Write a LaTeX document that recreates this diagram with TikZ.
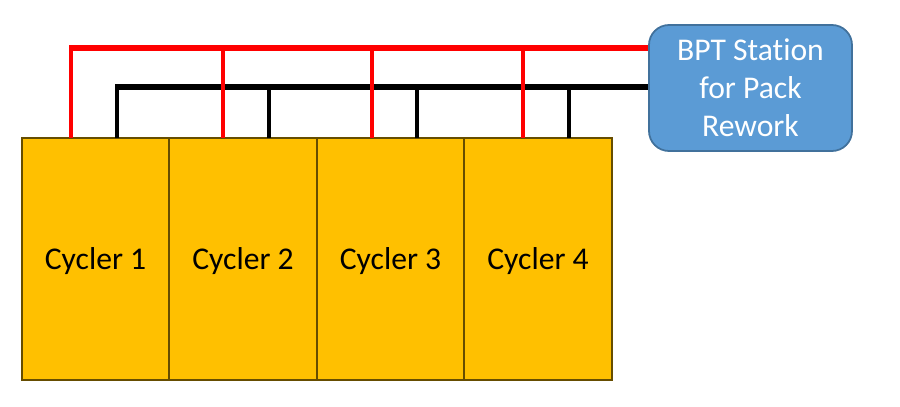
\documentclass[tikz,border=0pt]{standalone}
\usepackage{fontspec}
\setmainfont{Carlito}[Ligatures=NoCommon]
\usepackage{tikz}
\usetikzlibrary{positioning,calc}
\definecolor{cycfill}{RGB}{255,192,0}
\definecolor{cycedge}{RGB}{102,77,0}
\definecolor{bptfill}{RGB}{91,155,213}
\definecolor{bptedge}{RGB}{65,113,156}
\definecolor{busred}{RGB}{255,0,0}

\begin{document}
\begin{tikzpicture}[
  font=\fontsize{18}{21.5}\selectfont,
  cycler/.style={draw=cycedge, line width=1.2pt, fill=cycfill, minimum width=2.95cm, minimum height=4.84cm, inner sep=0pt, outer sep=0pt, text depth=-0.1cm},
  station/.style={draw=bptedge, line width=1pt, fill=bptfill, rounded corners=0.4cm, minimum width=4.06cm, minimum height=2.52cm, align=center, text=white, inner sep=2pt},
  redbus/.style={busred, line width=3.8pt},
  blkbus/.style={black, line width=3.8pt},
  reddrop/.style={busred, line width=2pt},
  blkdrop/.style={black, line width=2.2pt},
]
\useasboundingbox (0,0) rectangle (18,-8.14);
% ---- cyclers ----
\node[cycler] (c1) at (1.91,-5.18) {Cycler 1};
\node[cycler, right=0pt of c1] (c2) {Cycler 2};
\node[cycler, right=0pt of c2] (c3) {Cycler 3};
\node[cycler, right=0pt of c3] (c4) {Cycler 4};
% ---- station ----
\node[station] (bpt) at (15.01,-1.76) {BPT Station\\for Pack\\Rework};
% bus ends at the station
\coordinate (rbus) at ([yshift=0.8cm]bpt.west);
\coordinate (kbus) at ([yshift=0.02cm]bpt.west);
% drop points on top of each cycler
\foreach \i/\dr/\dk in {1/-0.49/0.43, 2/-0.40/0.52, 3/-0.37/0.53, 4/-0.30/0.62}{
  \coordinate (r\i) at ([xshift=\dr cm]c\i.north);
  \coordinate (k\i) at ([xshift=\dk cm]c\i.north);
}
% ---- black bus ----
\draw[blkbus] ([xshift=-1.1pt]k1 |- kbus) -- (kbus);
\foreach \i in {1,...,4}{ \draw[blkdrop] (k\i) -- (k\i |- kbus); }
% ---- red bus ----
\draw[redbus] ([xshift=-1pt]r1 |- rbus) -- (rbus);
\foreach \i in {1,...,4}{ \draw[reddrop] (r\i) -- (r\i |- rbus); }
\end{tikzpicture}
\end{document}
